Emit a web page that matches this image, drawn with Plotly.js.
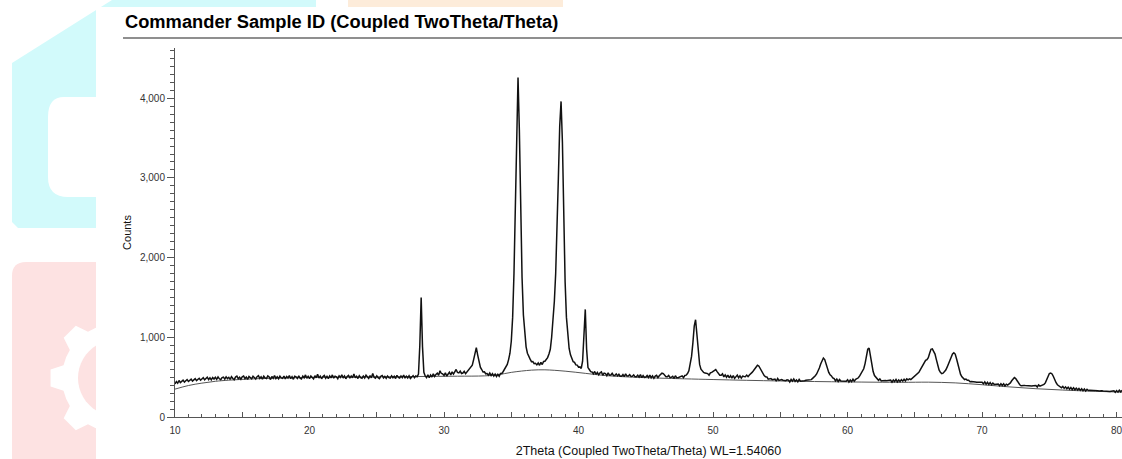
<!DOCTYPE html>
<html>
<head>
<meta charset="utf-8">
<script src="https://cdn.plot.ly/plotly-3.0.1.min.js"></script>
<style>
html,body{margin:0;padding:0;background:#fff;}
#chart{width:1122px;height:459px;}
</style>
</head>
<body>
<div id="chart"></div>
<script>
// ---- DATA ----
// Observed counts, 2Theta from 10.0 to 80.4 in steps of 0.1 degree
const twoThetaStart = 10.0;
const twoThetaStep = 0.1;
const counts = [
// 10
415,445,424,458,432,452,462,438,460,470,
// 11
446,468,475,450,470,482,456,478,486,462,
// 12
478,494,466,488,500,470,492,466,496,476,
// 13
499,472,503,479,468,495,501,476,504,482,
// 14
498,472,507,484,468,501,512,480,499,474,
// 15
505,515,481,502,472,509,487,478,511,490,
// 16
477,506,518,484,504,475,512,491,482,516,
// 17
503,470,509,486,521,483,505,480,513,490,
// 18
485,514,478,508,489,519,482,506,473,511,
// 19
503,484,517,488,477,512,492,528,486,509,
// 20
482,515,490,479,518,493,536,488,513,480,
// 21
507,521,486,510,482,516,491,528,487,511,
// 22
504,481,517,496,530,489,514,480,509,523,
// 23
488,515,493,541,491,511,483,518,494,487,
// 24
514,490,525,496,484,519,492,546,499,488,
// 25
516,493,481,512,521,491,509,485,515,494,
// 26
488,517,492,511,483,522,496,489,514,493,
// 27
526,487,512,491,517,484,510,519,492,514,
// 28
505,540,900,1500,880,560,515,494,529,492,
// 29
526,502,541,509,534,551,524,581,546,541,
// 30
522,554,514,547,562,527,566,539,578,596,
// 31
559,554,576,546,551,572,544,564,581,596,
// 32
616,650,720,800,870,780,690,625,596,564,
// 33
566,542,546,524,551,519,544,514,538,509,
// 34
536,512,546,546,571,600,625,660,720,800,
// 35
950,1250,1800,2650,3650,4260,3600,2550,1750,1280,
// 36
1020,880,800,750,726,694,696,669,674,654,
// 37
678,649,686,659,696,699,726,745,790,850,
// 38
1000,1200,1450,1800,2300,3000,3650,3960,3450,2500,
// 39
1700,1250,1000,860,780,741,694,686,654,651,
// 40
624,628,609,700,1000,1350,850,620,596,569,
// 41
566,542,571,534,559,529,554,566,524,551,
// 42
544,519,553,524,526,548,522,521,541,516,
// 43
536,512,511,533,506,541,514,514,532,509,
// 44
511,528,504,504,524,501,531,494,520,497,
// 45
502,521,496,526,492,516,486,514,523,494,
// 46
518,535,550,545,528,504,504,521,497,498,
// 47
511,484,518,492,492,501,501,516,494,521,
// 48
525,545,580,650,760,930,1140,1220,1000,780,
// 49
660,600,575,560,551,546,544,524,554,560,
// 50
570,585,595,570,545,524,524,541,504,528,
// 51
499,526,492,518,489,521,484,511,526,492,
// 52
516,488,514,509,506,526,506,528,540,560,
// 53
580,605,630,650,640,610,575,545,520,505,
// 54
503,474,479,482,469,475,476,449,483,459,
// 55
466,469,461,462,456,467,463,439,472,449,
// 56
477,447,466,441,471,449,449,455,456,461,
// 57
461,464,469,469,485,497,518,540,572,615,
// 58
665,715,740,720,660,600,560,530,516,489,
// 59
481,454,476,446,471,452,451,456,456,450,
// 60
468,439,464,444,474,450,472,480,492,515,
// 61
540,565,605,670,770,850,865,760,640,570,
// 62
520,495,484,460,478,452,456,460,459,454,
// 63
454,457,462,437,464,445,470,440,464,444,
// 64
469,450,474,452,479,466,478,470,485,498,
// 65
512,525,540,560,590,620,650,690,710,720,
// 66
745,800,850,855,830,790,720,650,590,560,
// 67
545,550,565,590,625,665,710,760,790,805,
// 68
790,730,650,585,535,505,485,470,475,460,
// 69
461,442,446,446,442,439,436,436,434,430,
// 70
436,416,441,412,434,408,431,404,426,409,
// 71
411,412,414,392,418,396,416,390,412,400,
// 72
410,428,455,480,495,482,450,422,405,392,
// 73
398,396,394,392,391,390,388,388,392,392,
// 74
396,377,402,388,394,402,410,428,470,515,
// 75
545,552,540,508,465,430,405,392,380,366,
// 76
384,359,378,354,374,349,370,344,366,342,
// 77
362,339,358,334,354,330,351,326,348,332,
// 78
336,336,334,332,331,329,328,326,332,330,
// 79
326,324,324,322,321,319,324,324,328,310,
// 80
331,312,336,316,334
];

// Fitted background curve
const bgTheta  = [10, 11, 12, 13, 14, 16, 18, 20, 24, 28, 31, 33, 34, 35, 36.5, 37.5, 39, 40.5, 42, 44, 46, 50, 55, 60, 64, 66, 68, 70, 72, 74, 76, 78, 80.4];
const bgCounts = [350, 395, 425, 448, 462, 480, 490, 496, 502, 508, 512, 516, 530, 560, 588, 592, 575, 548, 520, 500, 488, 470, 452, 440, 435, 437, 428, 405, 378, 355, 338, 325, 312];

// Axis ticks
const xTickVals = [10, 15, 20, 25, 30, 35, 40, 45, 50, 55, 60, 65, 70, 75, 80];
const xTickText = ['10', '', '20', '', '30', '', '40', '', '50', '', '60', '', '70', '', '80'];
const yTickVals = [0, 1000, 2000, 3000, 4000];
const yTickText = ['0', '1,000', '2,000', '3,000', '4,000'];

// ---- LAYOUT HELPERS (pixel -> paper) ----
const W = 1122, H = 459;
const ML = 175, MR = 0, MT = 48, MB = 42;
const PW = W - ML - MR, PH = H - MT - MB;
function px(x) { return (x - ML) / PW; }
function py(y) { return (H - MB - y) / PH; }
function P(x, y) { return px(x).toFixed(5) + ',' + py(y).toFixed(5); }

const cyan = 'rgb(210,250,251)';
const pink = 'rgb(253,226,226)';
const orange = 'rgb(253,236,218)';

// gear outline (decoration)
function gearPath(cx, cy, rOut, rIn, n) {
  let d = '';
  for (let i = 0; i < n; i++) {
    const a = (i * 360 / n) * Math.PI / 180;
    const pts = [
      [a - 0.24, rIn], [a - 0.13, rOut], [a + 0.13, rOut], [a + 0.24, rIn]
    ];
    pts.forEach((p, k) => {
      const x = cx + p[1] * Math.cos(p[0]);
      const y = cy + p[1] * Math.sin(p[0]);
      d += (i === 0 && k === 0 ? 'M ' : ' L ') + P(x, y);
    });
    const a2 = ((i + 0.5) * 360 / n) * Math.PI / 180;
    d += ' L ' + P(cx + rIn * Math.cos(a2), cy + rIn * Math.sin(a2));
  }
  return d + ' Z';
}
function circlePath(cx, cy, r) {
  let d = '';
  for (let i = 0; i <= 48; i++) {
    const a = i / 48 * 2 * Math.PI;
    d += (i === 0 ? 'M ' : ' L ') + P(cx + r * Math.cos(a), cy + r * Math.sin(a));
  }
  return d + ' Z';
}

const shapes = [
  // cyan watermark
  {type:'path', xref:'paper', yref:'paper', layer:'below', line:{width:0}, fillcolor:cyan,
   path:'M ' + P(12,63) + ' L ' + P(112,0) + ' L ' + P(316,0) + ' L ' + P(316,228) + ' L ' + P(18,228) + ' L ' + P(12,222) + ' Z'},
  {type:'path', xref:'paper', yref:'paper', layer:'below', line:{width:0}, fillcolor:'#ffffff',
   path:'M ' + P(64,97) + ' L ' + P(316,97) + ' L ' + P(316,197) + ' L ' + P(68,197) + ' Q ' + P(48,197) + ' ' + P(48,177) + ' L ' + P(48,117) + ' Q ' + P(48,97) + ' ' + P(64,97) + ' Z'},
  // orange watermark
  {type:'path', xref:'paper', yref:'paper', layer:'below', line:{width:0}, fillcolor:orange,
   path:'M ' + P(348,0) + ' L ' + P(563,0) + ' L ' + P(563,40) + ' L ' + P(348,40) + ' Z'},
  // pink watermark
  {type:'path', xref:'paper', yref:'paper', layer:'below', line:{width:0}, fillcolor:pink,
   path:'M ' + P(12,276) + ' Q ' + P(12,262) + ' ' + P(26,262) + ' L ' + P(320,262) + ' L ' + P(320,459) + ' L ' + P(12,459) + ' Z'},
  {type:'path', xref:'paper', yref:'paper', layer:'below', line:{width:0}, fillcolor:'#ffffff',
   path: gearPath(116, 378, 66, 54, 8)},
  {type:'path', xref:'paper', yref:'paper', layer:'below', line:{width:0}, fillcolor:pink,
   path: circlePath(116, 378, 38)},
  // white chart sheet
  {type:'rect', xref:'paper', yref:'paper', layer:'below', line:{width:0}, fillcolor:'#ffffff',
   x0:px(96), x1:px(1130), y0:py(7), y1:py(470)},
  // title underline
  {type:'line', xref:'paper', yref:'paper', layer:'above', line:{color:'#6a6a6a', width:1.6},
   x0:px(123), x1:px(1122), y0:py(38), y1:py(38)}
];

const traces = [
  {
    type:'scatter', mode:'lines', name:'Background',
    x: bgTheta, y: bgCounts,
    line:{color:'#555555', width:1, shape:'spline', smoothing:1},
    hoverinfo:'skip'
  },
  {
    type:'scatter', mode:'lines', name:'Commander Sample ID',
    x0: twoThetaStart, dx: twoThetaStep, y: counts,
    line:{color:'#111111', width:1.5}
  }
];

const font = 'Liberation Sans, Arial, Helvetica, sans-serif';

const layout = {
  width: W, height: H,
  margin: {l: ML, r: MR, t: MT, b: MB, pad: 0},
  paper_bgcolor: '#ffffff',
  plot_bgcolor: 'rgba(0,0,0,0)',
  showlegend: false,
  font: {family: font, color: '#222'},
  title: {
    text: '<b>Commander Sample ID (Coupled TwoTheta/Theta)</b>',
    font: {family: font, size: 18.3, color: '#000'},
    xref: 'container', yref: 'container',
    x: 125 / W, xanchor: 'left',
    y: 1 - 22 / H, yanchor: 'middle'
  },
  xaxis: {
    range: [10, 80.4],
    showline: true, linecolor: '#555', linewidth: 1,
    showgrid: false, zeroline: false,
    ticks: 'inside', ticklen: 5, tickcolor: '#555', tickwidth: 1,
    tickvals: xTickVals, ticktext: xTickText,
    ticklabelstandoff: 4,
    ticklabeloverflow: 'allow',
    tickfont: {family: font, size: 10, color: '#333'},
    minor: {dtick: 1, tick0: 10, ticks: 'inside', ticklen: 3, tickcolor: '#555', showgrid: false},
    title: {text: '2Theta (Coupled TwoTheta/Theta) WL=1.54060', font: {family: font, size: 12.5, color: '#111'}, standoff: 11},
    automargin: false
  },
  yaxis: {
    range: [0, 4630],
    showline: true, linecolor: '#555', linewidth: 1,
    showgrid: false, zeroline: false,
    ticks: 'outside', ticklen: 7, tickcolor: '#555', tickwidth: 1,
    tickvals: yTickVals, ticktext: yTickText,
    tickfont: {family: font, size: 10, color: '#333'},
    minor: {dtick: 100, tick0: 0, ticks: 'outside', ticklen: 4, tickcolor: '#555', showgrid: false},
    title: {text: 'Counts', font: {family: font, size: 11, color: '#111'}, standoff: 6},
    automargin: false
  },
  shapes: shapes
};

Plotly.newPlot('chart', traces, layout, {displayModeBar: false, staticPlot: true});
</script>
</body>
</html>
